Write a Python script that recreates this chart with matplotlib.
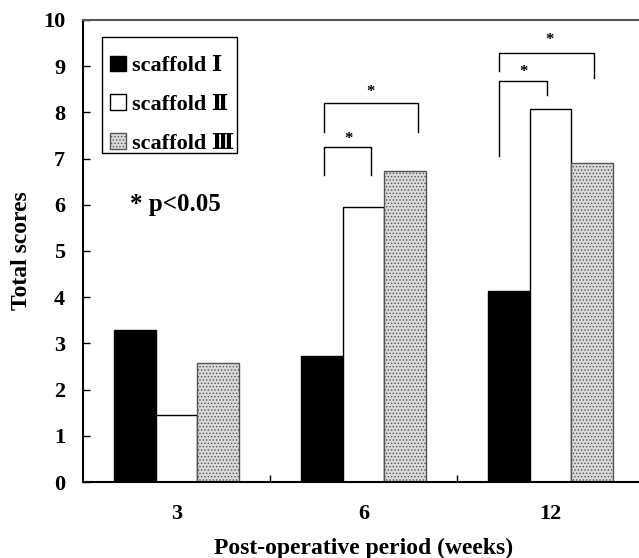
import numpy as np
import matplotlib.pyplot as plt
from matplotlib.patches import Patch, Rectangle

weeks = ['3', '6', '12']
scaffold_1 = [3.30, 2.73, 4.14]
scaffold_2 = [1.46, 5.96, 8.07]
scaffold_3 = [2.57, 6.73, 6.90]
labels = ['scaffold \u2160', 'scaffold \u2161', 'scaffold \u2162']

fam = ['Liberation Serif', 'DejaVu Serif', 'Noto Sans CJK JP']
plt.rcParams['font.family'] = fam
plt.rcParams['font.weight'] = 'bold'
plt.rcParams['hatch.linewidth'] = 0.6

fig = plt.figure(figsize=(6.39, 5.58), dpi=100)
ax = fig.add_axes([0.130, 0.1362, 0.878, 0.828])

x = np.arange(len(weeks))
w = 0.222
ax.bar(x - w, scaffold_1, w, color='black', edgecolor='black', linewidth=1)
ax.bar(x, scaffold_2, w, color='white', edgecolor='black', linewidth=1)
ax.bar(x + w, scaffold_3, w, color='#d9d9d9', edgecolor='#555555', hatch='.....', linewidth=1)

ax.set_xlim(-0.5, 2.5)
ax.set_ylim(0, 10)
ax.set_yticks(range(11))
ax.set_xticks(x)
ax.set_xticklabels(weeks)
ax.set_xticks([0.5, 1.5], minor=True)
ax.tick_params(axis='x', which='major', length=0, pad=16, labelsize=16)
ax.tick_params(axis='x', which='minor', direction='in', length=5, width=1)
ax.tick_params(axis='y', direction='in', length=5, width=1, pad=13, labelsize=16)
for s in ['left', 'bottom']:
    ax.spines[s].set_linewidth(1.5)
ax.spines['top'].set_color('#555555')
ax.spines['top'].set_linewidth(1.5)

ax.set_ylabel('Total scores', fontsize=17, fontweight='bold', labelpad=8)
ax.set_xlabel('Post-operative period (weeks)', fontsize=17, fontweight='bold', labelpad=10)

# significance brackets: (x_left, x_right, y_top, left_leg_bottom, right_leg_bottom, star_x, star_y)
brackets = [
    (0.789, 1.040, 7.25, 6.645, 6.645, 0.917, 7.42),
    (0.789, 1.291, 8.20, 7.58, 7.58, 1.035, 8.44),
    (1.725, 1.981, 8.68, 7.06, 8.38, 1.853, 8.87),
    (1.725, 2.233, 9.29, 8.90, 8.74, 1.992, 9.57),
]
for xl, xr, yt, yl, yr, sx, sy in brackets:
    ax.plot([xl, xl, xr, xr], [yl, yt, yt, yr], color='black', linewidth=1)
    ax.text(sx, sy, '*', ha='center', va='center', fontsize=12, fontweight='bold')

ax.text(-0.249, 6.0, '* p<0.05', ha='left', va='center', fontsize=18, fontweight='bold')

# legend box drawn separately so its padding matches the original
ax.add_patch(Rectangle((0.034, 0.712), 0.241, 0.251, transform=ax.transAxes,
                       facecolor='white', edgecolor='black', linewidth=1, zorder=4))
handles = [
    Patch(facecolor='black', edgecolor='black'),
    Patch(facecolor='white', edgecolor='black'),
    Patch(facecolor='#d9d9d9', edgecolor='#555555', hatch='.....'),
]
leg = ax.legend(handles, labels, loc='upper left', bbox_to_anchor=(0.048, 0.923),
                frameon=False, handlelength=0.7, handleheight=0.7, handletextpad=0.3,
                labelspacing=0.82, borderpad=0, borderaxespad=0,
                prop={'family': fam, 'weight': 'bold', 'size': 16})
leg.set_zorder(5)

fig.savefig('out.png', dpi=100)
